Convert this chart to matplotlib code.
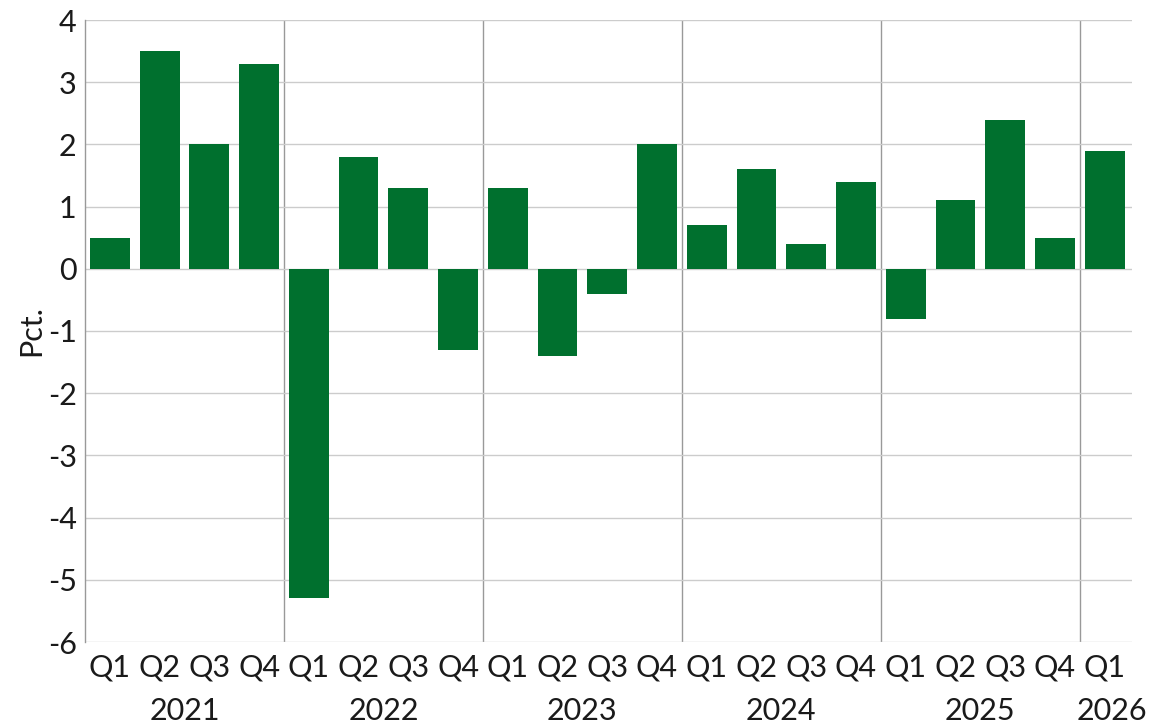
import matplotlib
matplotlib.use("Agg")
import matplotlib.pyplot as plt
from matplotlib.transforms import blended_transform_factory

quarters = ["Q1", "Q2", "Q3", "Q4"] * 5 + ["Q1"]
years = ["2021", "2022", "2023", "2024", "2025", "2026"]
values = [0.5, 3.5, 2.0, 3.3,
          -5.3, 1.8, 1.3, -1.3,
          1.3, -1.4, -0.4, 2.0,
          0.7, 1.6, 0.4, 1.4,
          -0.8, 1.1, 2.4, 0.5,
          1.9]
yticks = [4, 3, 2, 1, 0, -1, -2, -3, -4, -5, -6]

plt.rcParams["font.family"] = ["Lato", "DejaVu Sans"]
FS = 22
GREEN = "#00702e"
TXT = "#1a1a1a"

fig = plt.figure(figsize=(11.55, 7.25), dpi=100)
ax = fig.add_axes([85 / 1155, 1 - 642 / 725, (1132 - 85) / 1155, (642 - 20) / 725])

x = list(range(len(values)))
ax.bar(x, values, width=0.8, color=GREEN, zorder=3)

ax.set_xlim(-0.5, len(values) - 0.45)
ax.set_ylim(-6, 4)
ax.set_yticks(yticks)
ax.set_yticklabels([str(t) for t in yticks], fontsize=FS, color=TXT)
ax.set_xticks(x)
ax.set_xticklabels(quarters, fontsize=FS, color=TXT)
ax.tick_params(axis="both", length=0, pad=6)
ax.tick_params(axis="x", pad=8)

ax.grid(axis="y", color="#cccccc", linewidth=1.0, zorder=0)
for s in ["top", "right", "bottom"]:
    ax.spines[s].set_visible(False)
ax.spines["left"].set_color("#999999")
ax.spines["left"].set_linewidth(1.0)

# year separators
for k in range(1, len(years)):
    ax.axvline(4 * k - 0.5, color="#999999", linewidth=1.0, zorder=1)

# year labels under the quarter labels
trans = blended_transform_factory(ax.transData, ax.transAxes)
for k, yr in enumerate(years):
    n = min(4, len(values) - 4 * k)
    cx = 4 * k + (n - 1) / 2
    if n == 1:
        cx += 0.15
    ax.text(cx, -0.088, yr, transform=trans, ha="center", va="top",
            fontsize=FS, color=TXT)

ax.set_ylabel("Pct.", fontsize=FS, color=TXT, labelpad=2)

fig.savefig("out.png", dpi=100)
